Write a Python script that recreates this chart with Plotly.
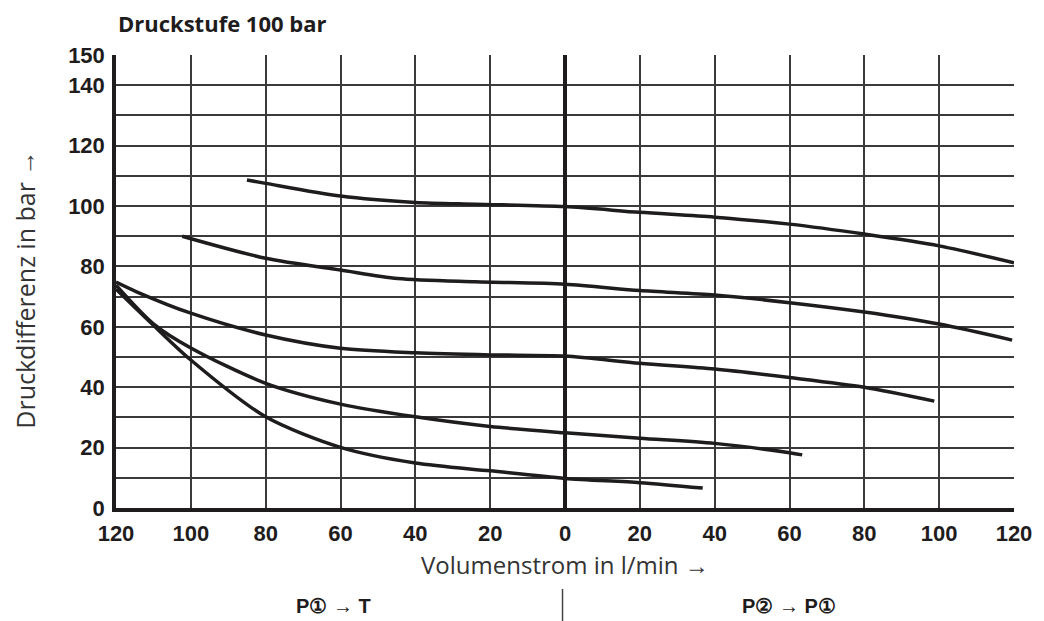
import plotly.graph_objects as go

# ---- data (x: negative = P1->T side, positive = P2->P1 side) ----
c1_x = [-85, -80, -60, -40, -24, 0, 20, 40, 60, 80, 100, 120]
c1_y = [108.6, 107.5, 103.3, 101.2, 100.6, 99.8, 97.9, 96.3, 94.0, 90.7, 86.8, 81.2]

c2_x = [-102.3, -80, -60, -44.7, -24, 0, 20, 40, 60, 80, 100, 119.5]
c2_y = [90.0, 82.7, 78.8, 76.0, 74.9, 74.1, 72.0, 70.5, 68.0, 64.9, 60.9, 55.6]

c3_x = [-120, -114.5, -100, -80, -60, -40, -20, 0, 20, 40, 60, 80, 98.7]
c3_y = [74.8, 71.6, 64.5, 57.3, 52.9, 51.4, 50.7, 50.3, 47.9, 46.0, 43.2, 40.0, 35.4]

c4_x = [-120, -110, -100, -80, -60, -40, -20, 0, 20, 40, 60, 63.4]
c4_y = [73.8, 61.0, 53.0, 41.3, 34.4, 30.2, 27.0, 24.9, 23.1, 21.4, 18.3, 17.6]

c5_x = [-120, -110, -100, -80, -60, -40, -20, 0, 20, 36.8]
c5_y = [72.5, 60.5, 49.0, 30.2, 20.1, 14.9, 12.3, 9.8, 8.4, 6.6]

x_tickvals = [-120, -100, -80, -60, -40, -20, 0, 20, 40, 60, 80, 100, 120]
x_ticktext = ["120", "100", "80", "60", "40", "20", "0", "20", "40", "60", "80", "100", "120"]
y_tickvals = [0, 10, 20, 30, 40, 50, 60, 70, 80, 90, 100, 110, 120, 130, 140, 150]
y_ticktext = ["0", "", "20", "", "40", "", "60", "", "80", "", "100", "", "120", "", "140", "150"]

title_text = "Druckstufe 100 bar"
x_title = "Volumenstrom in l/min →"
y_title = "Druckdifferenz in bar →"
left_label = "P① → T"
right_label = "P② → P①"

INK = "#1f1c1d"
GRID = "#3a3a3a"
TICKFONT = "Liberation Sans"

# page body adds an 8px margin; the figure is sized so the page is 1044x621
W, H = 1036, 613
L, T, PW, PH = 108, 47, 905, 453

fig = go.Figure()
for xs, ys in [(c1_x, c1_y), (c2_x, c2_y), (c3_x, c3_y), (c4_x, c4_y), (c5_x, c5_y)]:
    fig.add_trace(go.Scatter(
        x=xs, y=ys, mode="lines",
        line=dict(color=INK, width=3.5, shape="spline", smoothing=0.8),
        showlegend=False, hoverinfo="skip",
    ))

fig.update_layout(
    width=W, height=H, autosize=False,
    margin=dict(l=L, r=W - L - PW, t=T, b=H - T - PH),
    paper_bgcolor="white", plot_bgcolor="white",
    showlegend=False,
)

fig.update_xaxes(
    range=[-120, 120], tickmode="array", tickvals=x_tickvals, ticktext=x_ticktext,
    showgrid=True, gridcolor=GRID, gridwidth=1.5,
    zeroline=True, zerolinecolor=INK, zerolinewidth=3.5,
    showline=True, linecolor=INK, linewidth=3.5, mirror=False,
    ticks="", ticklabelstandoff=3,
    tickfont=dict(family=TICKFONT, size=22, color=INK, weight="bold"),
)
fig.update_yaxes(
    range=[0, 150], tickmode="array", tickvals=y_tickvals, ticktext=y_ticktext,
    showgrid=True, gridcolor=GRID, gridwidth=1.5,
    zeroline=False,
    showline=True, linecolor=INK, linewidth=3.5, mirror=False,
    ticks="", ticklabelstandoff=3,
    tickfont=dict(family=TICKFONT, size=22, color=INK, weight="bold"),
)


def py(pix_y):
    # reference pixel y -> paper coordinate
    return (T + 8 + PH - pix_y) / PH


def px(pix_x):
    return (pix_x - (L + 8)) / PW


fig.add_annotation(
    text=title_text, xref="paper", yref="paper", x=px(116), y=py(23),
    xanchor="left", yanchor="middle", showarrow=False,
    font=dict(family="Open Sans", size=22, color=INK, weight="bold"),
)
fig.add_annotation(
    text=x_title, xref="paper", yref="paper", x=px(568), y=py(564),
    xanchor="center", yanchor="middle", showarrow=False,
    font=dict(family="Open Sans", size=24, color="#333333"),
)
fig.add_annotation(
    text=y_title, xref="paper", yref="paper", x=px(24), y=py(290),
    xanchor="center", yanchor="middle", showarrow=False, textangle=-90,
    font=dict(family="Open Sans", size=25, color="#333333"),
)
fig.add_annotation(
    text=left_label, xref="paper", yref="paper", x=px(335), y=py(606),
    xanchor="center", yanchor="middle", showarrow=False,
    font=dict(family=TICKFONT, size=20, color=INK, weight="bold"),
)
fig.add_annotation(
    text=right_label, xref="paper", yref="paper", x=px(794), y=py(606),
    xanchor="center", yanchor="middle", showarrow=False,
    font=dict(family=TICKFONT, size=20, color=INK, weight="bold"),
)
fig.add_shape(
    type="line", xref="paper", yref="paper",
    x0=px(566), x1=px(566), y0=py(589), y1=py(625),
    line=dict(color="#444444", width=1.5),
)

fig.write_html("out.html")
